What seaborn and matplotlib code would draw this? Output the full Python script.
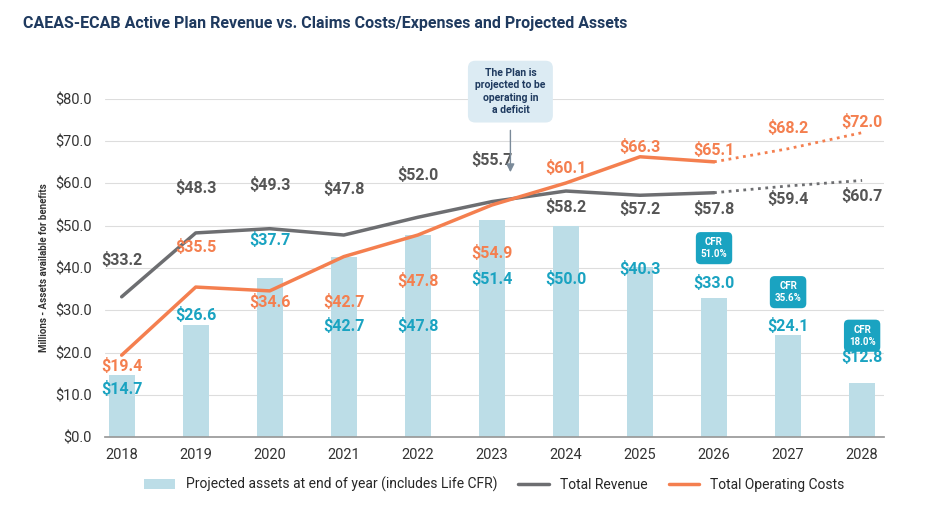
import matplotlib
matplotlib.use("Agg")
import matplotlib.pyplot as plt
import seaborn as sns
import numpy as np
import pandas as pd

years = [2018, 2019, 2020, 2021, 2022, 2023, 2024, 2025, 2026, 2027, 2028]
assets = [14.7, 26.6, 37.7, 42.7, 47.8, 51.4, 50.0, 40.3, 33.0, 24.1, 12.8]
revenue = [33.2, 48.3, 49.3, 47.8, 52.0, 55.7, 58.2, 57.2, 57.8, 59.4, 60.7]
costs = [19.4, 35.5, 34.6, 42.7, 47.8, 54.9, 60.1, 66.3, 65.1, 68.2, 72.0]
asset_label_y = [11.4, 29, 46.6, 26.3, 26.3, 37.4, 37.4, 39.8, 36.4, 26.3, 19]
rev_label_y = [42, 59, 59.6, 58.7, 62, 65.6, 54.4, 54, 54, 56.3, 57]
cost_label_y = [16.8, 45, 32, 32, 37, 43.5, 63.7, 68.6, 68, 73, 74.5]
cfr_years = [2026, 2027, 2028]
cfr_vals = ["51.0%", "35.6%", "18.0%"]
cfr_y = [44.7, 34.3, 24]

BAR = "#bcdde7"; GRAY = "#6d6e71"; ORANGE = "#f47f4f"; TEAL = "#1aa3c1"; NAVY = "#1f3a5f"

sns.set_theme(style="white")
plt.rcParams['font.family'] = ['Roboto', 'DejaVu Sans']
fig = plt.figure(figsize=(9.26, 5.12), dpi=100)
ax = fig.add_axes([0.113, 0.146, 0.842, 0.661])

df = pd.DataFrame({"year": years, "assets": assets, "revenue": revenue, "costs": costs})
sns.barplot(data=df, x="year", y="assets", native_scale=True, width=0.35, color=BAR,
            saturation=1, ax=ax, linewidth=0, label="Projected assets at end of year (includes Life CFR)")
solid = df[df.year <= 2026]; dot = df[df.year >= 2026]
sns.lineplot(data=solid, x="year", y="revenue", color=GRAY, lw=2.5, ax=ax, label="Total Revenue")
sns.lineplot(data=dot, x="year", y="revenue", color=GRAY, lw=2, ls=":", ax=ax)
sns.lineplot(data=solid, x="year", y="costs", color=ORANGE, lw=2.5, ax=ax, label="Total Operating Costs")
sns.lineplot(data=dot, x="year", y="costs", color=ORANGE, lw=2, ls=":", ax=ax)

for i, y in enumerate(years):
    ax.text(y, asset_label_y[i], f"${assets[i]:.1f}", color=TEAL, ha="center", va="center", fontsize=11.5, fontweight="bold")
    ax.text(y, rev_label_y[i], f"${revenue[i]:.1f}", color="#555555", ha="center", va="center", fontsize=11.5, fontweight="bold")
    ax.text(y, cost_label_y[i], f"${costs[i]:.1f}", color=ORANGE, ha="center", va="center", fontsize=11.5, fontweight="bold")

for y, v, yy in zip(cfr_years, cfr_vals, cfr_y):
    ax.text(y, yy, f"CFR\n{v}", color="white", ha="center", va="center", fontsize=7, fontweight="bold",
            bbox=dict(boxstyle="round,pad=0.5", fc=TEAL, ec="none"), linespacing=1.3)

ax.text(2023.25, 81.7, "The Plan is\nprojected to be\noperating in\na deficit", ha="center", va="center",
        fontsize=7.5, fontweight="bold", color=NAVY, linespacing=1.3, clip_on=False,
        bbox=dict(boxstyle="round,pad=0.7", fc="#dcebf3", ec="none"))
ax.annotate("", xy=(2023.25, 62), xytext=(2023.25, 73.2),
            arrowprops=dict(arrowstyle="-|>", color="#7a8a99", lw=1), annotation_clip=False)

ax.set_xlim(2017.77, 2028.3)
ax.set_ylim(0, 80)
ax.set_xticks(years)
ax.set_xticklabels([str(y) for y in years], fontsize=10.5, color="#333333")
ax.set_yticks(np.arange(0, 81, 10))
ax.set_yticklabels([f"${v:.1f}" for v in np.arange(0, 81, 10)], fontsize=10.5, color="#333333")
ax.yaxis.grid(True, color="#dddddd", lw=0.8)
ax.set_axisbelow(True)
for s in ["top", "right", "left"]:
    ax.spines[s].set_visible(False)
ax.spines["bottom"].set_color("#999999")
ax.tick_params(axis="x", length=4, color="#999999")
ax.set_xlabel("")
ax.set_ylabel("Millions - Assets available for benefits", fontsize=7, fontweight="bold", color="#333333")

h, l = ax.get_legend_handles_labels()
order = [l.index("Projected assets at end of year (includes Life CFR)"), l.index("Total Revenue"), l.index("Total Operating Costs")]
ax.legend([h[i] for i in order], [l[i] for i in order], loc="upper center", bbox_to_anchor=(0.5, -0.08),
          ncol=3, frameon=False, fontsize=10, handlelength=2.2, columnspacing=1.5)

fig.text(0.025, 0.955, "CAEAS-ECAB Active Plan Revenue vs. Claims Costs/Expenses and Projected Assets",
         fontsize=11.5, fontweight="bold", color=NAVY, va="center")
fig.savefig("out.png", dpi=100)
